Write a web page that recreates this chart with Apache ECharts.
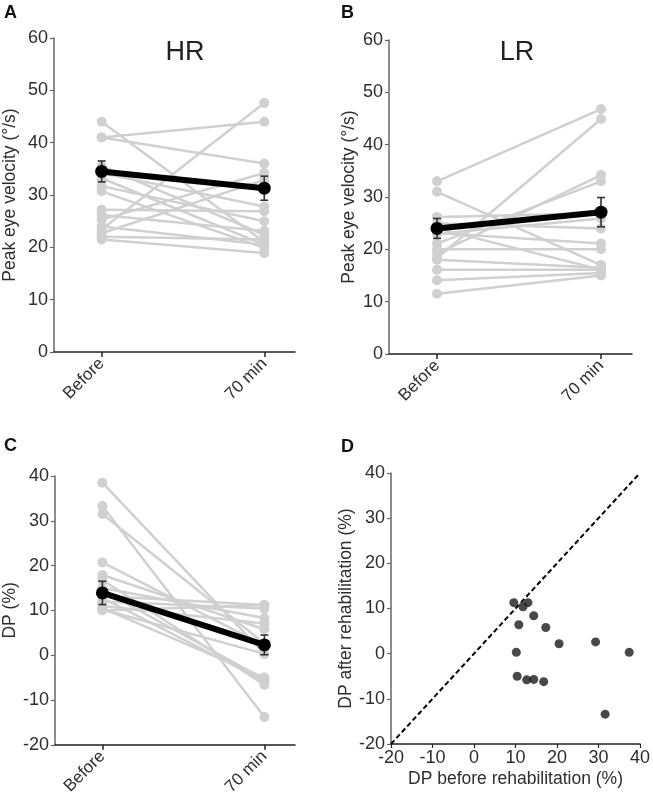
<!DOCTYPE html>
<html><head><meta charset="utf-8">
<script src="https://cdn.jsdelivr.net/npm/echarts@6/dist/echarts.min.js"></script>
<style>html,body{margin:0;padding:0;background:#fff}#c{width:653px;height:798px}</style>
</head><body><div id="c"></div>
<script>
// ---------- data ----------
const categories = ['Before', '70 min'];
const velTicks = [0, 10, 20, 30, 40, 50, 60];
const dpTicks = [-20, -10, 0, 10, 20, 30, 40];

const hrBefore = [44.0, 41.0, 41.0, 35.5, 34.2, 33.2, 31.7, 30.7, 27.2, 26.2, 25.3, 24.0, 23.4, 22.7, 22.0, 21.5];
const hrAfter  = [21.0, 44.0, 36.0, 22.4, 27.8, 20.5, 25.0, 19.9, 26.9, 23.1, 34.2, 20.5, 47.6, 32.9, 21.5, 18.9];
const hrMean = [34.5, 31.3];
const hrSem  = [2.0, 2.3];

const lrBefore = [33.0, 31.0, 26.2, 25.0, 24.0, 23.1, 23.0, 21.1, 20.0, 19.2, 18.3, 18.0, 16.1, 14.1, 11.5];
const lrAfter  = [46.8, 17.0, 26.9, 24.0, 16.1, 21.1, 25.9, 33.0, 20.0, 34.2, 44.9, 16.5, 16.1, 15.5, 15.0];
const lrMean = [24.0, 27.1];
const lrSem  = [1.9, 2.8];

const dpBefore = [38.5, 33.3, 31.5, 20.7, 17.9, 16.8, 15.0, 14.5, 13.2, 12.8, 12.0, 11.0, 10.5, 10.2, 10.0];
const dpAfter  = [0.3, -13.8, 2.6, 2.2, 5.8, -6.6, 8.3, -5.4, 11.2, -5.8, 10.4, 7.1, -5.0, 0.3, 11.2];
const dpMean = [13.9, 2.3];
const dpSem  = [2.6, 2.2];

const scatBefore = [9.6, 11.8, 13.0, 10.8, 14.4, 17.3, 20.5, 29.3, 37.4, 10.2, 10.4, 12.7, 14.4, 16.8, 31.6];
const scatAfter  = [11.3, 10.4, 11.3, 6.4, 8.4, 5.8, 2.2, 2.6, 0.3, 0.3, -5.0, -5.8, -5.7, -6.2, -13.4];
const identityLine = [-20, 40];

// ---------- styling / build ----------
const FONT = 'Liberation Sans, Arial, sans-serif';
const TXT = '#2e2e2e';
const GRAY = '#d0d0d0';
const FS = 18;
const NFS = 17.5;

function catXAxis(gi) {
  return {
    type: 'value', gridIndex: gi, min: -0.293, max: 1.189,
    splitLine: {show: false},
    axisLine: {onZero: false, lineStyle: {color: '#222', width: 1.5}},
    axisTick: {customValues: [0, 1], length: 5, lineStyle: {color: '#222', width: 1.5}},
    axisLabel: {customValues: [0, 1], rotate: 45, margin: 9, fontSize: 17, color: TXT, fontFamily: FONT,
      formatter: v => categories[Math.round(v)]}
  };
}
function valYAxis(gi, ticks, name, gap) {
  return {
    type: 'value', gridIndex: gi, min: ticks[0], max: ticks[ticks.length - 1], interval: ticks[1] - ticks[0],
    name: name, nameLocation: 'middle', nameGap: gap,
    nameTextStyle: {fontSize: NFS, color: TXT, fontFamily: FONT},
    splitLine: {show: false},
    axisLine: {show: true, onZero: false, lineStyle: {color: '#666', width: 1.5}},
    axisTick: {show: true, length: 4, lineStyle: {color: '#666', width: 1.2}},
    axisLabel: {fontSize: FS, color: TXT, margin: 6, fontFamily: FONT}
  };
}

const series = [];
function pairedPanel(gi, before, after, mean, sem) {
  before.forEach((b, i) => {
    series.push({
      type: 'line', xAxisIndex: gi, yAxisIndex: gi, silent: true, z: 2,
      data: [[0, b], [1, after[i]]],
      symbol: 'circle', symbolSize: 10,
      itemStyle: {color: GRAY}, lineStyle: {color: GRAY, width: 2.5}
    });
  });
  series.push({
    type: 'custom', xAxisIndex: gi, yAxisIndex: gi, silent: true, z: 4,
    data: mean.map((m, i) => [i, m - sem[i], m + sem[i]]),
    encode: {x: 0, y: [1, 2]},
    renderItem: (params, api) => {
      const x = api.value(0);
      const lo = api.coord([x, api.value(1)]);
      const hi = api.coord([x, api.value(2)]);
      const w = 4, st = {stroke: '#333', lineWidth: 1.6};
      return {type: 'group', children: [
        {type: 'line', shape: {x1: lo[0], y1: lo[1], x2: hi[0], y2: hi[1]}, style: st},
        {type: 'line', shape: {x1: lo[0] - w, y1: lo[1], x2: lo[0] + w, y2: lo[1]}, style: st},
        {type: 'line', shape: {x1: hi[0] - w, y1: hi[1], x2: hi[0] + w, y2: hi[1]}, style: st}
      ]};
    }
  });
  series.push({
    type: 'line', xAxisIndex: gi, yAxisIndex: gi, silent: true, z: 5,
    data: mean.map((m, i) => [i, m]),
    symbol: 'circle', symbolSize: 13,
    itemStyle: {color: '#000'}, lineStyle: {color: '#000', width: 6}
  });
}
pairedPanel(0, hrBefore, hrAfter, hrMean, hrSem);
pairedPanel(1, lrBefore, lrAfter, lrMean, lrSem);
pairedPanel(2, dpBefore, dpAfter, dpMean, dpSem);

series.push({
  type: 'line', xAxisIndex: 3, yAxisIndex: 3, silent: true, z: 2,
  data: identityLine.map(v => [v, v]), symbol: 'none',
  lineStyle: {color: '#000', width: 2, type: [5, 3]}
});
series.push({
  type: 'scatter', xAxisIndex: 3, yAxisIndex: 3, silent: true, z: 3,
  data: scatBefore.map((b, i) => [b, scatAfter[i]]),
  symbol: 'circle', symbolSize: 9, itemStyle: {color: '#1a1a1a'}
});

const letter = (t, x, y) => ({type: 'text', left: x, top: y,
  style: {text: t, fontSize: 18, fontWeight: 'bold', fill: '#111', fontFamily: FONT}});
const title = (t, x, y) => ({type: 'text', x: x, y: y,
  style: {text: t, fontSize: 27, fill: '#222', fontFamily: FONT, align: 'center', verticalAlign: 'middle'}});

const option = {
  animation: false,
  backgroundColor: '#fff',
  grid: [
    {left: 52, top: 38, width: 243, height: 314},
    {left: 389, top: 40, width: 243, height: 314},
    {left: 52, top: 476, width: 243, height: 269},
    {left: 391, top: 473, width: 249, height: 271}
  ],
  xAxis: [
    catXAxis(0), catXAxis(1), catXAxis(2),
    {type: 'value', gridIndex: 3, min: dpTicks[0], max: dpTicks[dpTicks.length - 1], interval: dpTicks[1] - dpTicks[0],
      name: 'DP before rehabilitation (%)', nameLocation: 'middle', nameGap: 26,
      nameTextStyle: {fontSize: NFS, color: TXT, fontFamily: FONT},
      splitLine: {show: false},
      axisLine: {onZero: false, lineStyle: {color: '#222', width: 1.5}},
      axisTick: {show: true, length: 4, lineStyle: {color: '#222', width: 1.2}},
      axisLabel: {fontSize: FS, color: TXT, margin: 5, fontFamily: FONT}}
  ],
  yAxis: [
    valYAxis(0, velTicks, 'Peak eye velocity (°/s)', 35),
    valYAxis(1, velTicks, 'Peak eye velocity (°/s)', 31),
    valYAxis(2, dpTicks, 'DP (%)', 35),
    valYAxis(3, dpTicks, 'DP after rehabilitation (%)', 31)
  ],
  graphic: [
    letter('A', 4, 4), letter('B', 341, 4), letter('C', 4, 437), letter('D', 341, 438),
    title('HR', 185, 53), title('LR', 517, 53)
  ],
  series: series
};
const chart = echarts.init(document.getElementById('c'), null, {renderer: 'canvas'});
chart.setOption(option);
</script>
</body></html>
